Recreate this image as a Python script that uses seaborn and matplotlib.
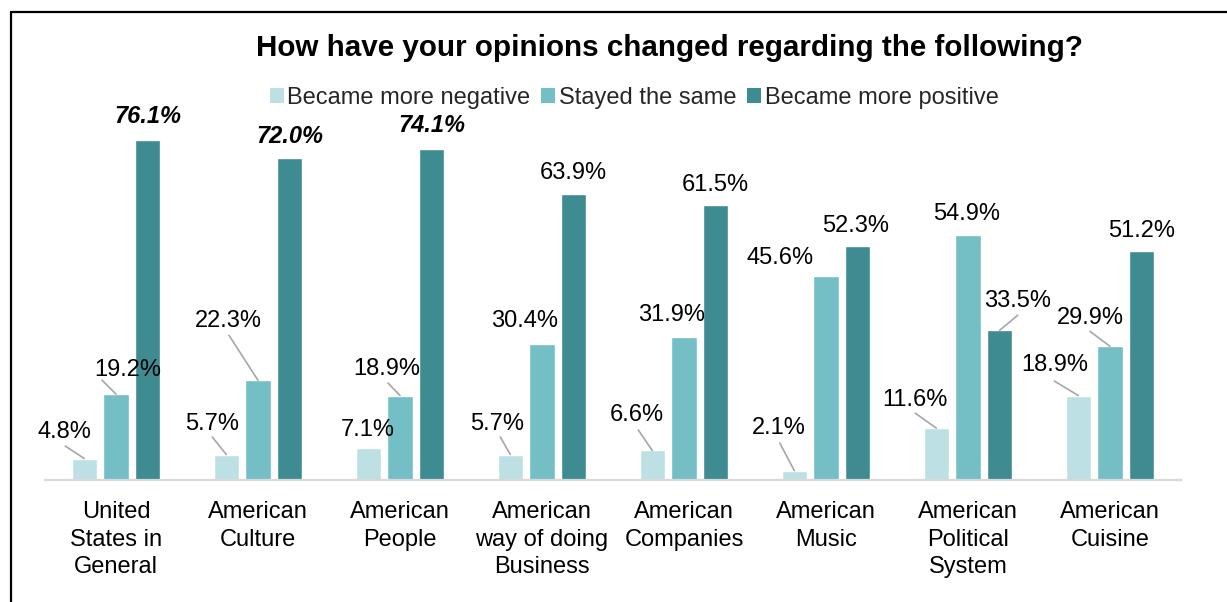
import matplotlib
matplotlib.use("Agg")
import matplotlib.pyplot as plt
import seaborn as sns
import pandas as pd
from matplotlib.lines import Line2D
from matplotlib.patches import Patch

# ---------------- data ----------------
categories = [
    "United\nStates in\nGeneral",
    "American\nCulture",
    "American\nPeople",
    "American\nway of doing\nBusiness",
    "American\nCompanies",
    "American\nMusic",
    "American\nPolitical\nSystem",
    "American\nCuisine",
]
series = ["Became more negative", "Stayed the same", "Became more positive"]
negative = [4.8, 5.7, 7.1, 5.7, 6.6, 2.1, 11.6, 18.9]
same = [19.2, 22.3, 18.9, 30.4, 31.9, 45.6, 54.9, 29.9]
positive = [76.1, 72.0, 74.1, 63.9, 61.5, 52.3, 33.5, 51.2]
title = "How have your opinions changed regarding the following?"

# ---------------- styling ----------------
colors = ["#BCE0E3", "#73BFC5", "#3E8B91"]
# label offsets in pixels from the bar top: (dx, dy_up, leader start offset or None)
neg_off = [(-20, 28.5, (-19, 12.5)), (-14, 32.5, (-14, 17.5)), (-1, 21, None),
           (-13, 32.5, (-10, 17.5)), (-15, 37.5, (-14, 20.5)), (-15.5, 44.6, (-14.5, 27.6)),
           (-21, 31, (-21, 15)), (-24, 32.5, (-24, 14.5))]
same_off = [(12, 27, (-14, 14)), (-30, 62, (-29, 45)), (-13, 28.5, (-12, 12.5)),
            (-17, 26, None), (-12.5, 24.4, None), (-46, 21, None),
            (-1, 22.6, None), (-20, 31, (-20, 15))]
pos_off = [(0, 25, None), (0, 24, None), (0, 25, None), (0, 23.5, None),
           (0, 23, None), (-2, 23, None), (18, 32, (18, 15)), (0, 23, None)]
pos_emph = [True, True, True, False, False, False, False, False]

sns.set_style("white")
plt.rcParams["font.family"] = ["Liberation Sans", "DejaVu Sans"]

W, H = 1227, 602
fig = plt.figure(figsize=(W / 100, H / 100), dpi=100)
fig.patch.set_facecolor("white")

px_per_pct = 4.47
base_y = 480
ymax = 80
ax_left, ax_right = 45, 1181
ax = fig.add_axes([ax_left / W, (H - base_y) / H, (ax_right - ax_left) / W,
                   ymax * px_per_pct / H])

df = pd.DataFrame({
    "category": categories * 3,
    "series": [series[0]] * 8 + [series[1]] * 8 + [series[2]] * 8,
    "value": negative + same + positive,
})

sns.barplot(data=df, x="category", y="value", hue="series", hue_order=series,
            order=categories, palette=colors, width=0.67, gap=0.21,
            saturation=1, legend=False, ax=ax)

ax.set_ylim(0, ymax)
ax.set_xlim(-0.5, 7.5)
ax.set_xlabel("")
ax.set_ylabel("")
ax.set_yticks([])
for s in ["top", "left", "right"]:
    ax.spines[s].set_visible(False)
ax.spines["bottom"].set_color("#D9D9D9")
ax.spines["bottom"].set_linewidth(1.6)
ax.tick_params(axis="x", length=0, pad=15, labelsize=17, colors="black")
for t in ax.get_xticklabels():
    t.set_linespacing(1.34)

fs = 17
em = fs * 100 / 72
cap_mid = 0.358 * em

all_vals = [negative, same, positive]
all_off = [neg_off, same_off, pos_off]
for k, cont in enumerate(ax.containers):
    for i, bar in enumerate(cont.patches):
        v = all_vals[k][i]
        dx, dy, lead = all_off[k][i]
        xt = bar.get_x() + bar.get_width() / 2
        yt = bar.get_height()
        emph = (k == 2 and pos_emph[i])
        ax.annotate(f"{v:.1f}%", xy=(xt, yt), xytext=(dx, dy - cap_mid),
                    textcoords="offset pixels", ha="center", va="baseline",
                    fontsize=fs, color="black",
                    fontweight="bold" if emph else "normal",
                    fontstyle="italic" if emph else "normal",
                    annotation_clip=False)
        if lead is not None:
            ax.annotate("", xy=(xt, yt), xytext=lead, textcoords="offset pixels",
                        arrowprops=dict(arrowstyle="-", color="#A6A6A6", lw=1.2,
                                        shrinkA=0, shrinkB=0),
                        annotation_clip=False)

# title
fig.text(670 / W, 1 - 48 / H, title, ha="center", va="center",
         fontsize=21.3, fontweight="bold", color="black")

# legend
handles = [Patch(facecolor=c, edgecolor="none") for c in colors]
fig.legend(handles, series, loc="center", bbox_to_anchor=(634 / W, 1 - 98 / H),
           ncol=3, frameon=False, fontsize=17, handlelength=0.6, handleheight=0.6,
           handletextpad=0.15, columnspacing=0.45, borderpad=0)

# figure frame lines (top and left)
fig.add_artist(Line2D([11 / W, 1], [1 - 12 / H, 1 - 12 / H], transform=fig.transFigure,
                      color="black", lw=1.6))
fig.add_artist(Line2D([11 / W, 11 / W], [0, 1 - 12 / H], transform=fig.transFigure,
                      color="black", lw=1.6))

fig.savefig("out.png", dpi=100, facecolor="white")
